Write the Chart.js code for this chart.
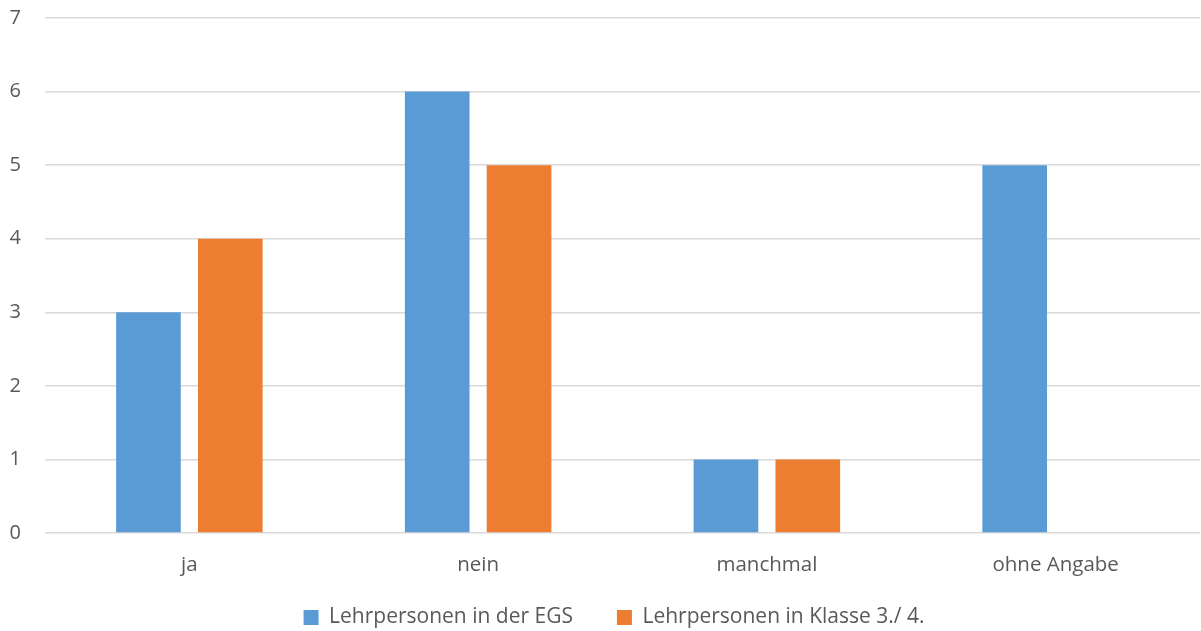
<!DOCTYPE html>
<html>
<head>
<meta charset="utf-8">
<script src="https://cdn.jsdelivr.net/npm/chart.js@4"></script>
<style>
  html, body { margin: 0; padding: 0; background: #fff; }
  #wrap { width: 1201px; height: 631px; }
</style>
</head>
<body>
<div id="wrap"><canvas id="chart"></canvas></div>
<script>
const categories = ['ja', 'nein', 'manchmal', 'ohne Angabe'];
const egsValues = [3, 6, 1, 5];
const klasseValues = [4, 5, 1, 0];
const seriesNames = ['Lehrpersonen in der EGS', 'Lehrpersonen in Klasse 3./ 4.'];

const textColor = '#595959';
const fontFamily = "'Open Sans', 'Noto Sans', sans-serif";

const data = {
    labels: categories,
    datasets: [
        {
            label: seriesNames[0],
            data: egsValues,
            backgroundColor: '#5B9BD5',
            categoryPercentage: 0.567,
            barPercentage: 0.79
        },
        {
            label: seriesNames[1],
            data: klasseValues,
            backgroundColor: '#ED7D31',
            categoryPercentage: 0.567,
            barPercentage: 0.79
        }
    ]
};

// wide gap between legend items without a tall legend box
const legendSpacing = {
    id: 'legendSpacing',
    beforeInit(chart) {
        const fit = chart.legend.fit;
        chart.legend.fit = function () {
            fit.call(this);
            this.height = 54;
        };
    },
    afterLayout(chart) {
        const legend = chart.legend;
        legend.top = legend.bottom - 68;
        legend.left += 14;
        legend.right += 14;
    }
};

new Chart(document.getElementById('chart'), {
    type: 'bar',
    data: data,
    plugins: [legendSpacing],
    options: {
        responsive: true,
        maintainAspectRatio: false,
        animation: false,
        layout: { padding: { top: 0, right: 1, left: 0, bottom: 0 } },
        scales: {
            x: {
                grid: { display: false, drawTicks: false },
                border: { display: false },
                ticks: { color: textColor, font: { family: fontFamily, size: 20.5 }, padding: 20 },
                afterFit: (scale) => { scale.height = 44; }
            },
            y: {
                min: 0,
                max: 7,
                grid: { color: '#D9D9D9', lineWidth: 1.5, drawTicks: false },
                border: { display: false },
                ticks: { stepSize: 1, color: textColor, font: { family: fontFamily, size: 20 }, padding: 24 },
                afterFit: (scale) => {
                    scale.width = 45;
                    scale.paddingTop = 18;
                }
            }
        },
        plugins: {
            legend: {
                position: 'bottom',
                labels: {
                    color: textColor,
                    font: { family: fontFamily, size: 21 },
                    boxWidth: 15,
                    boxHeight: 15,
                    padding: 44
                }
            },
            tooltip: { enabled: false }
        }
    }
});
</script>
</body>
</html>
